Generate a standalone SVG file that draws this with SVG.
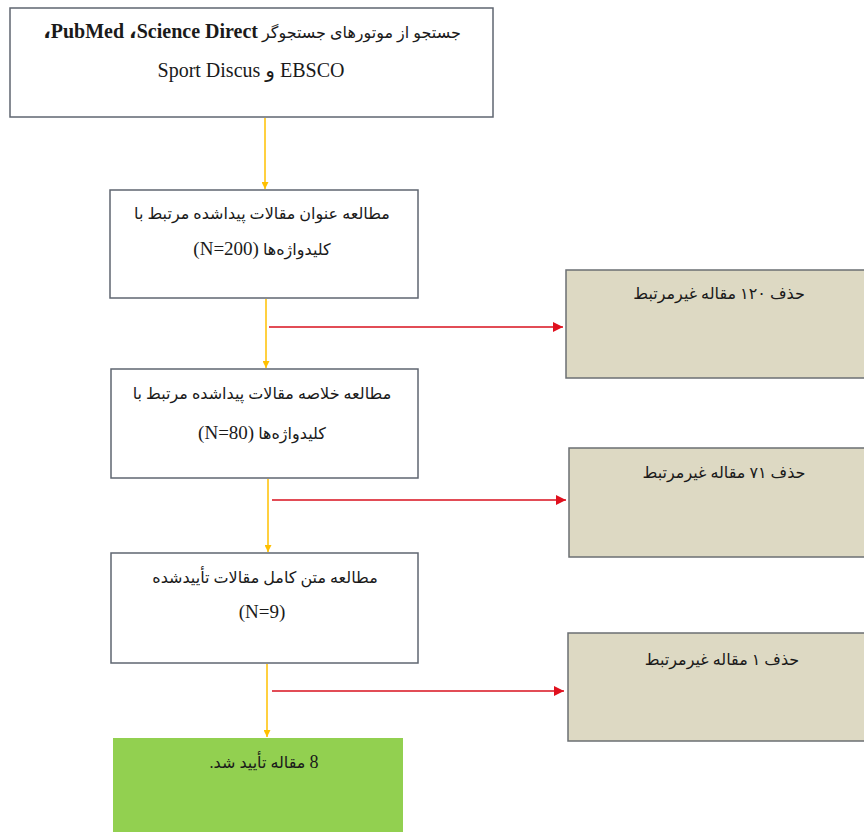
<svg xmlns="http://www.w3.org/2000/svg" width="864" height="832" viewBox="0 0 864 832">
<style>
.box{fill:#ffffff;stroke:#5f6670;stroke-width:1.5}
.gray{fill:#ddd9c3;stroke:#6b6f73;stroke-width:1.5}
.green{fill:#92d050;stroke:none}
.t{font-family:"Liberation Serif","DejaVu Sans",serif;font-size:16px;fill:#1a1a1a;text-anchor:middle}
.en{font-size:20px}
.n{font-size:19px}
.y{stroke:#ffc000;stroke-width:1.5;fill:none}
.r{stroke:#d9101e;stroke-width:1.5;fill:none}
</style>
<defs>
<marker id="ya" viewBox="0 0 10 10" refX="10" refY="5" markerWidth="7" markerHeight="7" markerUnits="userSpaceOnUse" orient="auto"><path d="M0,0 L10,5 L0,10 z" fill="#ffc000"/></marker>
<marker id="ra" viewBox="0 0 10 10" refX="10" refY="5" markerWidth="12" markerHeight="10" markerUnits="userSpaceOnUse" orient="auto"><path d="M0,0 L10,5 L0,10 z" fill="#e0101e"/></marker>
</defs>
<g id="connectors">
<line class="y" x1="265" y1="118" x2="265" y2="189" marker-end="url(#ya)"/>
<line class="y" x1="266" y1="299" x2="266" y2="368" marker-end="url(#ya)"/>
<line class="r" x1="269" y1="327" x2="563" y2="327" marker-end="url(#ra)"/>
<line class="y" x1="268" y1="479" x2="268" y2="552" marker-end="url(#ya)"/>
<line class="r" x1="272" y1="500" x2="566" y2="500" marker-end="url(#ra)"/>
<line class="y" x1="267" y1="664" x2="267" y2="737" marker-end="url(#ya)"/>
<line class="r" x1="272" y1="691" x2="564" y2="691" marker-end="url(#ra)"/>
</g>
<g id="n1">
<rect class="box" x="10" y="8" width="483" height="109"/>
<text class="t" x="252" y="38" direction="rtl"><tspan>جستجو از موتورهای جستجوگر </tspan><tspan class="en" font-weight="bold">Science Direct،&#x200F; PubMed،</tspan></text>
<text class="t en" x="251" y="77" direction="rtl">EBSCO و Sport Discus</text>
</g>
<g id="n2">
<rect class="box" x="110" y="190" width="308" height="108"/>
<text class="t" x="262" y="219" direction="rtl">مطالعه عنوان مقالات پیداشده مرتبط با</text>
<text class="t" x="262" y="255" direction="rtl">کلیدواژه‌ها <tspan class="n">(N=200)</tspan></text>
</g>
<g id="n3">
<rect class="box" x="111" y="369" width="307" height="109"/>
<text class="t" x="262" y="399" direction="rtl">مطالعه خلاصه مقالات پیداشده مرتبط با</text>
<text class="t" x="262" y="439" direction="rtl">کلیدواژه‌ها <tspan class="n">(N=80)</tspan></text>
</g>
<g id="n4">
<rect class="box" x="111" y="553" width="307" height="110"/>
<text class="t" x="265" y="583" direction="rtl">مطالعه متن کامل مقالات تأییدشده</text>
<text class="t n" x="262" y="618" direction="rtl">(N=9)</text>
</g>
<g id="n5">
<rect class="green" x="113" y="738" width="290" height="100"/>
<text class="t" x="264" y="768" direction="rtl"><tspan font-size="18">8</tspan> مقاله تأیید شد.</text>
</g>
<g id="r1">
<rect class="gray" x="566" y="270" width="310" height="108"/>
<text class="t" x="719" y="299" direction="rtl">حذف ۱۲۰ مقاله غیرمرتبط</text>
</g>
<g id="r2">
<rect class="gray" x="569" y="448" width="310" height="109"/>
<text class="t" x="724" y="478" direction="rtl">حذف ۷۱ مقاله غیرمرتبط</text>
</g>
<g id="r3">
<rect class="gray" x="568" y="633" width="310" height="108"/>
<text class="t" x="722" y="665" direction="rtl">حذف ۱ مقاله غیرمرتبط</text>
</g>
</svg>
